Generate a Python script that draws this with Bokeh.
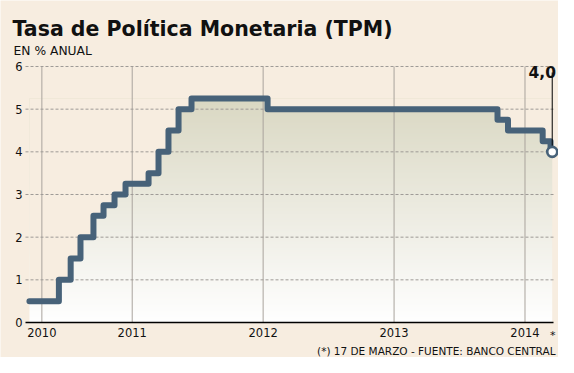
import numpy as np
from bokeh.plotting import figure
from bokeh.models import Range1d, FixedTicker, Label
from bokeh.embed import file_html
from bokeh.resources import INLINE

# ---- data ----
change_dates = [2010.215, 2010.44, 2010.53, 2010.605, 2010.704, 2010.781, 2010.865,
                2010.949, 2011.125, 2011.201, 2011.277, 2011.354, 2011.453, 2012.034,
                2013.79, 2013.87, 2014.135, 2014.195, 2014.208]
tpm_rates = [0.5, 1.0, 1.5, 2.0, 2.5, 2.75, 3.0, 3.25, 3.5, 4.0, 4.5, 5.0, 5.25, 5.0,
             4.75, 4.5, 4.25, 4.0, 4.0]
year_ticks = [2010.31, 2011.0, 2012.0, 2013.0, 2014.0]
year_labels = ["2010", "2011", "2012", "2013", "2014"]
y_ticks = [0, 1, 2, 3, 4, 5, 6]
last_value_text = "4,0"
title_text = "Tasa de Política Monetaria (TPM)"
subtitle_text = "EN % ANUAL"
source_text = "(*) 17 DE MARZO - FUENTE: BANCO CENTRAL"
star_text = "*"

# ---- styles / layout ----
BG = "#f7ede0"
LINE = "#476279"
FONT = "DejaVu Sans"
W, H = 558, 357
X_START, X_END = 2010.185, 2014.218      # plotting-area bounds (x)
PX_PER_YEAR = 130.93
PX_PER_UNIT = 42.667
AREA_LEFT_PX, AREA_BOTTOM_PX = 25, H - 322   # plotting area position in the canvas

x_lo = X_START - AREA_LEFT_PX / PX_PER_YEAR
x_hi = x_lo + W / PX_PER_YEAR
y_lo = -AREA_BOTTOM_PX / PX_PER_UNIT
y_hi = y_lo + H / PX_PER_UNIT

p = figure(width=W, height=H,
           x_range=Range1d(x_lo, x_hi), y_range=Range1d(y_lo, y_hi),
           output_backend="svg", toolbar_location=None, min_border=0)
p.title.visible = False
p.background_fill_color = BG
p.border_fill_color = BG
p.outline_line_color = None
p.xgrid.visible = False
p.ygrid.visible = False

# ---- gradient fill under the step line ----
n = 256
t = np.linspace(0.0, 1.0, n)[:, None]
c_bot = np.array([255, 255, 255], dtype=float)
c_top = np.array([0xda, 0xd8, 0xc3], dtype=float)
cols = (c_bot + (c_top - c_bot) * t).astype(np.uint8)
img = np.empty((n, 1), dtype=np.uint32)
view = img.view(dtype=np.uint8).reshape((n, 1, 4))
view[:, 0, 0] = cols[:, 0]
view[:, 0, 1] = cols[:, 1]
view[:, 0, 2] = cols[:, 2]
view[:, 0, 3] = 255
fill_top = max(tpm_rates)
r_img = p.image_rgba(image=[img], x=change_dates[0], y=0,
                     dw=change_dates[-1] - change_dates[0], dh=fill_top)
r_img.level = "image"
r_mask = p.varea_step(x=change_dates, y1=tpm_rates, y2=[fill_top] * len(tpm_rates),
                      step_mode="after", fill_color=BG, fill_alpha=1.0)
r_mask.level = "image"

# ---- grid lines (limited to the plotting area) ----
g_v = p.segment(x0=year_ticks, y0=[y_ticks[0]] * len(year_ticks),
                x1=year_ticks, y1=[y_ticks[-1]] * len(year_ticks),
                line_color="#a9a39d", line_width=1)
g_v.level = "underlay"
g_h = p.segment(x0=[X_START] * (len(y_ticks) - 1), y0=y_ticks[1:],
                x1=[X_END] * (len(y_ticks) - 1), y1=y_ticks[1:],
                line_color="#9e9a96", line_width=1, line_dash="3 2")
g_h.level = "underlay"

# ---- axes drawn inside the canvas ----
xa = p.xaxis[0]
xa.fixed_location = 0
xa.bounds = (X_START, X_END)
xa.ticker = FixedTicker(ticks=year_ticks)
xa.major_label_overrides = {t_: l_ for t_, l_ in zip(year_ticks, year_labels)}
xa.axis_line_color = "black"
xa.axis_line_width = 1.6
xa.major_tick_line_color = None
xa.minor_tick_line_color = None
xa.major_tick_out = 0
xa.major_tick_in = 0
xa.minor_tick_out = 0
xa.major_label_standoff = 5
xa.major_label_text_font = FONT
xa.major_label_text_font_size = "11.5px"
xa.major_label_text_color = "#111111"

ya = p.yaxis[0]
ya.fixed_location = X_START
ya.bounds = (0, 6)
ya.ticker = FixedTicker(ticks=y_ticks)
ya.axis_line_color = None
ya.major_tick_line_color = None
ya.minor_tick_line_color = None
ya.major_tick_out = 0
ya.major_tick_in = 0
ya.minor_tick_out = 0
ya.major_label_standoff = 3
ya.major_label_text_font = FONT
ya.major_label_text_font_size = "11.5px"
ya.major_label_text_color = "#111111"

# ---- step line, leader and end point ----
p.step(x=change_dates, y=tpm_rates, mode="after", line_color=LINE, line_width=6,
       line_join="round", line_cap="round")
leader_top = 5.86
p.segment(x0=[change_dates[-1]], y0=[tpm_rates[-1]], x1=[change_dates[-1]], y1=[leader_top],
          line_color="black", line_width=1)
p.scatter(x=[change_dates[-1]], y=[tpm_rates[-1]], size=10, fill_color="white",
          line_color=LINE, line_width=2.6)


def add_text(text, X, Y, size, bold=False, align="left", color="#111111"):
    # X, Y: pixel position from the canvas top-left (text baseline)
    p.add_layout(Label(x=X, y=H - Y, x_units="screen", y_units="screen",
                       text=text, text_font=FONT, text_font_size=size,
                       text_font_style="bold" if bold else "normal",
                       text_align=align, text_baseline="alphabetic",
                       text_color=color))


add_text(title_text, 12, 28, "20.5px", bold=True)
add_text(subtitle_text, 13, 50, "12.3px")
add_text(last_value_text, 528, 71.5, "15.5px", bold=True)
add_text(star_text, 549.5, 335, "11px")
add_text(source_text, 555, 350, "10.5px", align="right")

open("out.html", "w").write(file_html(p, INLINE))
